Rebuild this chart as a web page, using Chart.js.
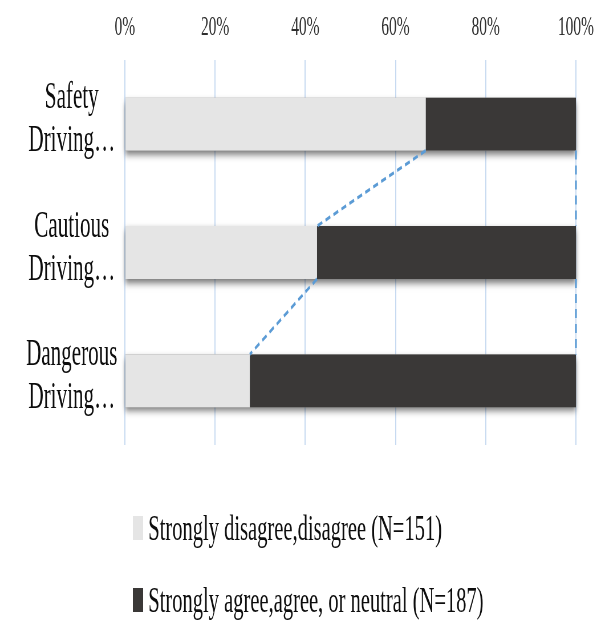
<!DOCTYPE html>
<html>
<head>
<meta charset="utf-8">
<script src="https://cdn.jsdelivr.net/npm/chart.js@4.4.1/dist/chart.umd.min.js"></script>
<style>
  html, body { margin: 0; padding: 0; background: #ffffff; overflow: hidden; }
  /* the chart is laid out on a wider canvas and condensed horizontally */
  #frame { width: 1061px; height: 623px; transform: scaleX(0.5702); transform-origin: 0 0; }
</style>
</head>
<body>
<div id="frame"><canvas id="chart"></canvas></div>
<script>
// Category labels (two lines each)
const categories = [
  ['Safety', 'Driving…'],
  ['Cautious', 'Driving…'],
  ['Dangerous', 'Driving…']
];

// Share of respondents per group, in percent
const disagreeShare = [66.7, 42.6, 27.7];
const agreeShare = [33.3, 57.4, 72.3];

const seriesNames = [
  'Strongly disagree,disagree (N=151)',
  'Strongly agree,agree, or neutral (N=187)'
];

const tickValues = [0, 20, 40, 60, 80, 100];
const tickLabels = ['0%', '20%', '40%', '60%', '80%', '100%'];

const serif = 'Liberation Serif, Times New Roman, serif';

// Soft drop shadow under each full stacked bar
const barShadow = {
  id: 'barShadow',
  beforeDatasetsDraw(chart) {
    const ctx = chart.ctx;
    const first = chart.getDatasetMeta(0).data;
    const last = chart.getDatasetMeta(chart.data.datasets.length - 1).data;
    ctx.save();
    ctx.shadowColor = 'rgba(0,0,0,0.55)';
    ctx.shadowBlur = 7;
    ctx.shadowOffsetY = 4;
    ctx.fillStyle = '#9a9a9a';
    first.forEach((bar, i) => {
      const p = bar.getProps(['base', 'y', 'height'], true);
      const end = last[i].getProps(['x'], true).x;
      ctx.fillRect(p.base, p.y - p.height / 2, end - p.base, p.height);
    });
    ctx.restore();
  }
};

// Dashed series lines joining the segment edges of neighbouring bars
const seriesLines = {
  id: 'seriesLines',
  afterDatasetsDraw(chart) {
    const ctx = chart.ctx;
    ctx.save();
    ctx.strokeStyle = '#5b9bd5';
    ctx.lineWidth = 3.2;
    ctx.setLineDash([9, 6]);
    chart.data.datasets.forEach((ds, d) => {
      const bars = chart.getDatasetMeta(d).data;
      for (let i = 0; i < bars.length - 1; i++) {
        const a = bars[i].getProps(['x', 'y', 'height'], true);
        const b = bars[i + 1].getProps(['x', 'y', 'height'], true);
        ctx.beginPath();
        ctx.moveTo(a.x, a.y + a.height / 2);
        ctx.lineTo(b.x, b.y - b.height / 2);
        ctx.stroke();
      }
    });
    ctx.restore();
  }
};

// Legend stacked in rows under the plot
const stackedLegend = {
  id: 'stackedLegend',
  afterDraw(chart) {
    const ctx = chart.ctx;
    const area = chart.chartArea;
    ctx.save();
    ctx.font = '36px ' + serif;
    ctx.textBaseline = 'alphabetic';
    ctx.textAlign = 'left';
    chart.data.datasets.forEach((ds, i) => {
      const baseline = area.bottom + 95 + i * 72;
      ctx.fillStyle = ds.backgroundColor;
      ctx.fillRect(233, baseline - 24, 18, 24);
      ctx.fillStyle = '#0d0d0d';
      ctx.fillText(ds.label, 260, baseline);
    });
    ctx.restore();
  }
};

new Chart(document.getElementById('chart'), {
  type: 'bar',
  data: {
    labels: categories,
    datasets: [
      { label: seriesNames[0], data: disagreeShare, backgroundColor: '#e5e5e5' },
      { label: seriesNames[1], data: agreeShare, backgroundColor: '#3a3837' }
    ]
  },
  options: {
    indexAxis: 'y',
    responsive: true,
    maintainAspectRatio: false,
    animation: false,
    layout: { padding: { top: 8, left: 20, right: 51, bottom: 178 } },
    datasets: { bar: { categoryPercentage: 1, barPercentage: 0.412, borderWidth: 0 } },
    plugins: {
      legend: { display: false },
      tooltip: { enabled: false }
    },
    scales: {
      x: {
        position: 'top',
        stacked: true,
        min: 0,
        max: 100,
        afterBuildTicks(scale) { scale.ticks = tickValues.map(v => ({ value: v })); },
        afterFit(scale) { scale.height = 52; },
        grid: { color: '#c7daf1', lineWidth: 2, drawTicks: false },
        border: { display: false },
        ticks: {
          padding: 16,
          color: '#2e2e2e',
          font: { family: serif, size: 27 },
          callback: (v) => tickLabels[tickValues.indexOf(v)]
        }
      },
      y: {
        stacked: true,
        afterFit(scale) { scale.width = 199; },
        grid: { display: false },
        border: { display: false },
        ticks: {
          crossAlign: 'center',
          padding: 5,
          labelOffset: -4,
          color: '#0d0d0d',
          font: { family: serif, size: 37, lineHeight: 1.16 }
        }
      }
    }
  },
  plugins: [barShadow, seriesLines, stackedLegend]
});
</script>
</body>
</html>
